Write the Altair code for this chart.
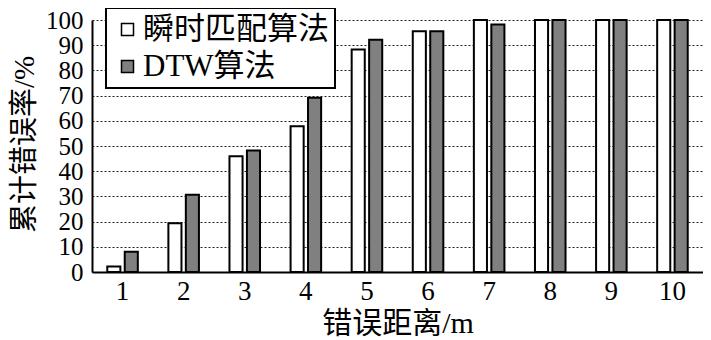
import altair as alt
import pandas as pd

distances = [1, 2, 3, 4, 5, 6, 7, 8, 9, 10]
series_names = ["瞬时匹配算法", "DTW算法"]
instant_rate = [2.2, 19.3, 45.9, 57.8, 88.3, 95.5, 100, 100, 100, 100]
dtw_rate = [8.0, 30.7, 48.2, 69.1, 92.2, 95.5, 98.2, 100, 100, 100]
y_ticks = [0, 10, 20, 30, 40, 50, 60, 70, 80, 90, 100]

rows = []
for d, a, b in zip(distances, instant_rate, dtw_rate):
    rows.append({"dist": d, "series": series_names[0], "rate": a})
    rows.append({"dist": d, "series": series_names[1], "rate": b})
df = pd.DataFrame(rows)

FONT = "'Liberation Serif', 'Noto Sans CJK SC', serif"

chart = alt.Chart(df).mark_bar(
    stroke="black", strokeWidth=2, strokeJoin="miter"
).encode(
    x=alt.X(
        "dist:O",
        scale=alt.Scale(paddingInner=0.5, paddingOuter=0.25),
        axis=alt.Axis(
            title="错误距离/m", labelAngle=0, ticks=False, grid=False,
            labelFontSize=27, labelPadding=6, labelColor="black",
            labelFont=FONT, titleFont=FONT, titleFontSize=30,
            titleFontWeight="normal", titleColor="black",
            titleBaseline="middle", titleY=51,
            domainColor="black", domainWidth=2,
        ),
    ),
    xOffset=alt.XOffset(
        "series:N",
        scale=alt.Scale(domain=series_names, paddingInner=0.25, paddingOuter=0),
    ),
    y=alt.Y(
        "rate:Q",
        scale=alt.Scale(domain=[0, 100], nice=False),
        axis=alt.Axis(
            title="累计错误率/%", values=y_ticks, ticks=False, labelOverlap=False,
            labelFontSize=25, labelPadding=9, labelColor="black", labelFont=FONT,
            titleFont=FONT, titleFontSize=29, titleFontWeight="normal",
            titleColor="black", titleBaseline="middle", titleAlign="center",
            titleX=-68, titleY=124,
            domainColor="black", domainWidth=2,
            grid=True, gridColor="#222222", gridDash=[2, 2], gridWidth=1,
        ),
    ),
    fill=alt.Fill(
        "series:N",
        scale=alt.Scale(domain=series_names, range=["white", "#808080"]),
        legend=alt.Legend(
            title=None, orient="none", legendX=14, legendY=-12,
            symbolType="square", symbolSize=144, symbolStrokeColor="black",
            symbolStrokeWidth=1.5, labelFontSize=31, labelFont=FONT,
            labelColor="black", labelOffset=0, labelLimit=400, rowPadding=5,
            padding=6, strokeColor="black", fillColor="white",
        ),
    ),
).properties(
    width=611, height=252,
    autosize=alt.AutoSizeParams(type="none"),
    padding={"left": 84, "top": 12, "right": 0, "bottom": 68},
).configure_view(
    stroke=None
).configure_legend(
    strokeWidth=2
)

chart.save("out.html", embed_options={"renderer": "svg", "actions": False})
